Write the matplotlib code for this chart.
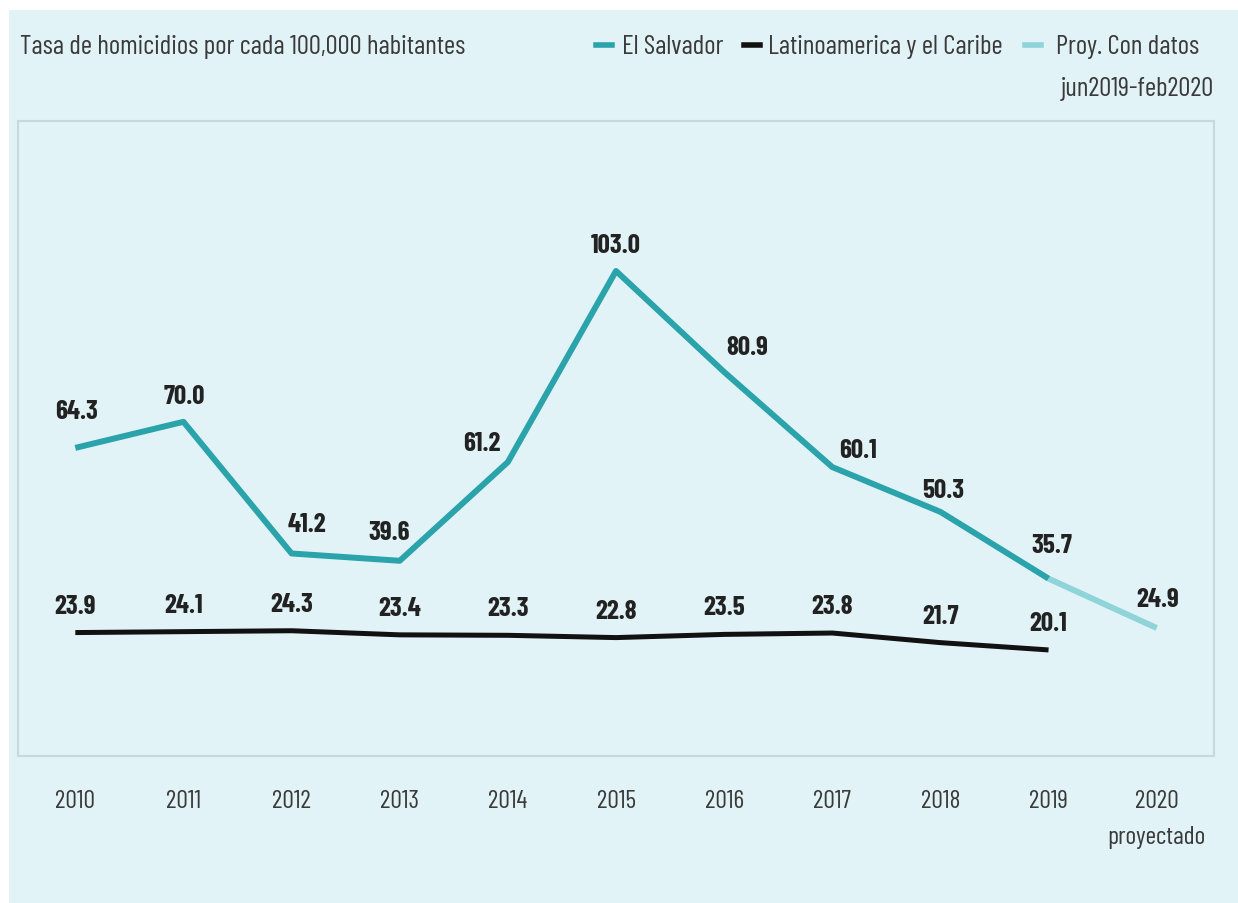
import matplotlib.pyplot as plt
from matplotlib.lines import Line2D
from matplotlib.patches import Rectangle

# data
years = ["2010", "2011", "2012", "2013", "2014", "2015", "2016", "2017", "2018", "2019", "2020\nproyectado"]
el_salvador = [64.3, 70.0, 41.2, 39.6, 61.2, 103.0, 80.9, 60.1, 50.3, 35.7]
latam = [23.9, 24.1, 24.3, 23.4, 23.3, 22.8, 23.5, 23.8, 21.7, 20.1]
proyeccion = [35.7, 24.9]  # 2019 -> 2020

# label nudges in pixels (dx, dy), to keep the numbers off the line
sv_offsets = [(1, 37), (1, 26), (15, 29), (-11, 29), (-26, 19), (0, 26),
              (23, 25), (26, 17), (3, 22), (3, 34)]
proy_offset = (1, 29)
latam_offset = (0, 27)

teal = "#2aa3ab"
teal_light = "#8fd4d8"
black = "#111111"
bg = "#e2f3f7"
txt = "#3a3a3a"

plt.rcParams['font.family'] = ["Barlow Condensed", "Roboto Condensed", "DejaVu Sans"]

W, H = 1238, 904
fig = plt.figure(figsize=(W / 100, H / 100), dpi=100)
fig.patch.set_facecolor("white")
fig.add_artist(Rectangle((9 / W, 0), 1 - 9 / W, 1 - 11 / H, transform=fig.transFigure,
                         facecolor=bg, edgecolor="none", zorder=0))

ax = fig.add_axes([18 / W, 1 - 757 / H, (1214 - 18) / W, (757 - 122) / H])
ax.set_facecolor(bg)
for s in ax.spines.values():
    s.set_color("#c9d8dc")
    s.set_linewidth(1.5)

x = list(range(len(years)))
ax.plot(x[:len(el_salvador)], el_salvador, color=teal, lw=4.3, solid_capstyle="butt", zorder=3)
ax.plot(x[len(el_salvador) - 1:], proyeccion, color=teal_light, lw=4.3, solid_capstyle="butt", zorder=2)
ax.plot(x[:len(latam)], latam, color=black, lw=3.6, solid_capstyle="butt", zorder=3)

lab = dict(fontsize=19.5, fontweight="bold", color="#222222", ha="center", va="center",
           textcoords="offset pixels", zorder=5)
for i, v in enumerate(el_salvador):
    ax.annotate(f"{v:.1f}", (i, v), xytext=sv_offsets[i], **lab)
ax.annotate(f"{proyeccion[1]:.1f}", (len(years) - 1, proyeccion[1]), xytext=proy_offset, **lab)
for i, v in enumerate(latam):
    ax.annotate(f"{v:.1f}", (i, v), xytext=latam_offset, **lab)

ax.set_xlim(-0.53, 10.53)
ax.set_ylim(-3.1, 135.8)
ax.set_yticks([])
ax.set_xticks(x)
ax.set_xticklabels(years, fontsize=18.5, color=txt)
ax.tick_params(axis="x", length=0, pad=24)
for t in ax.get_xticklabels():
    t.set_linespacing(1.7)

# header: title and hand-placed legend
fs = 19.5
fig.text(20 / W, 1 - 47 / H, "Tasa de homicidios por cada 100,000 habitantes",
         fontsize=fs, color=txt, va="center", ha="left")

legend_items = [("El Salvador", teal, 596, 622),
                ("Latinoamerica y el Caribe", black, 744, 768),
                ("Proy. Con datos", teal_light, 1025, 1056)]
for name, col, hx, tx in legend_items:
    fig.add_artist(Line2D([hx / W, (hx + 16) / W], [1 - 46 / H, 1 - 46 / H],
                          transform=fig.transFigure, color=col, lw=4))
    fig.text(tx / W, 1 - 47 / H, name, fontsize=fs, color=txt, va="center", ha="left")
fig.text(1214 / W, 1 - 89 / H, "jun2019-feb2020", fontsize=fs, color=txt, va="center", ha="right")

fig.savefig("out.png", dpi=100, facecolor="white")
